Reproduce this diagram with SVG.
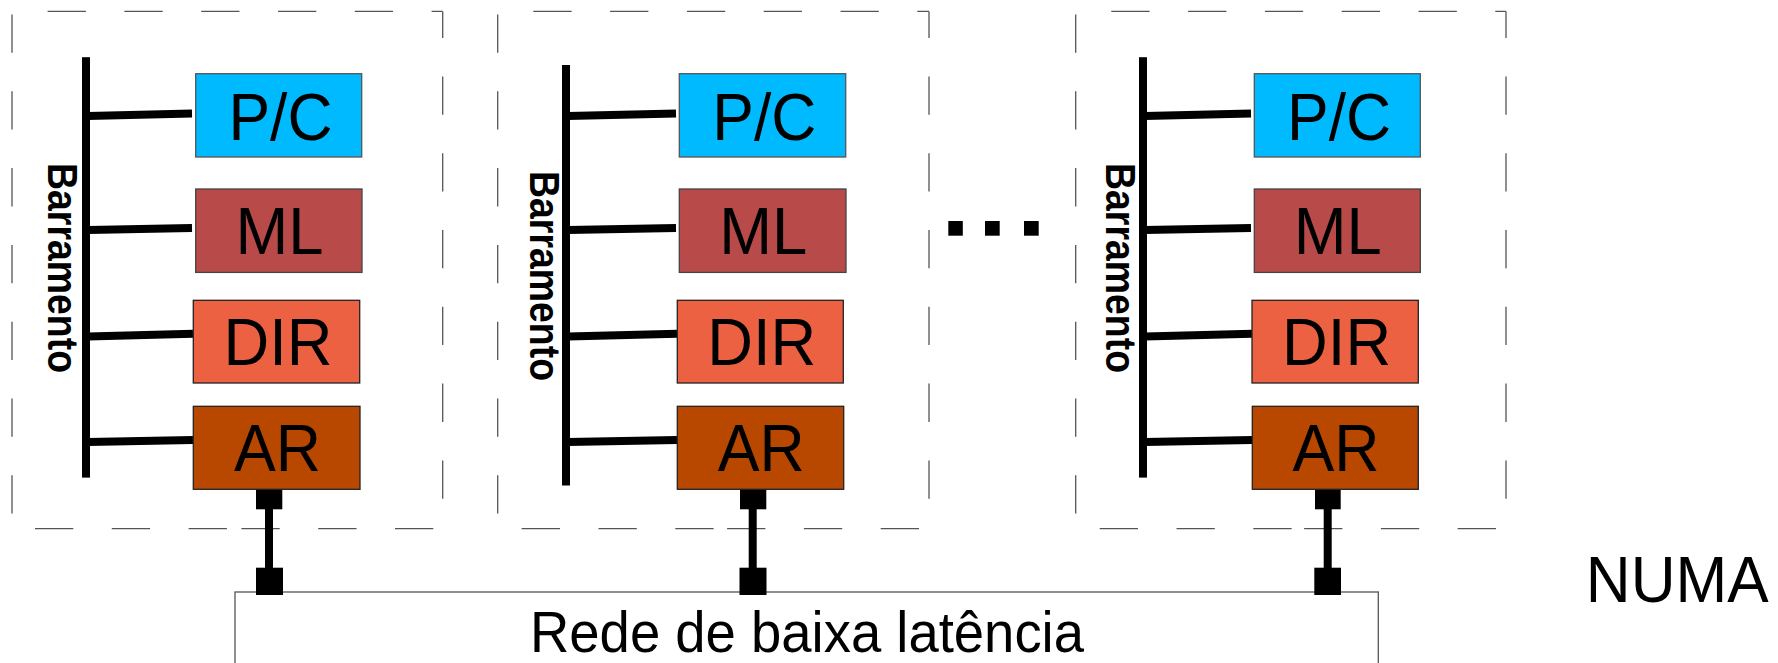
<svg xmlns="http://www.w3.org/2000/svg" width="1778" height="663" viewBox="0 0 1778 663">
<style>
.bg{fill:#ffffff}
.dash{fill:none;stroke:#555555;stroke-width:1.3;stroke-dasharray:38.3 38.5}
.bus{fill:#000000}
.conn{stroke:#000000;stroke-width:8;fill:none}
.pc{fill:#00BAFF;stroke:#555555;stroke-width:1.3}
.ml{fill:#B84A4A;stroke:#444444;stroke-width:1.3}
.dir{fill:#EB6142;stroke:#222222;stroke-width:1.3}
.ar{fill:#B84700;stroke:#222222;stroke-width:1.3}
.lbl{font-family:"Liberation Sans",Arial,sans-serif;font-size:66px;fill:#000000;text-anchor:middle}
.bar{font-family:"Liberation Sans",Arial,sans-serif;font-size:42px;font-weight:bold;fill:#000000;text-anchor:middle}
.net{fill:#ffffff;stroke:#555555;stroke-width:1.3}
.big{font-family:"Liberation Sans",Arial,sans-serif;font-size:58px;fill:#000000}
.sq{fill:#000000}
</style>
<rect class="bg" x="0" y="0" width="1778" height="663"/>

<g id="panel1">
  <path class="dash" d="M12,11.4 H442.7" stroke-dashoffset="41.2"/>
  <path class="dash" d="M442.7,11.4 V528.6" stroke-dashoffset="11.8"/>
  <path class="dash" d="M442.7,528.6 H240" stroke-dashoffset="-9.4"/>
  <path class="dash" d="M12,528.6 H232" stroke-dashoffset="-23"/>
  <path class="dash" d="M12,11.4 V528.6" stroke-dashoffset="-3.1"/>
</g>
<g id="panel2">
  <path class="dash" d="M497.7,11.4 H929" stroke-dashoffset="41.2"/>
  <path class="dash" d="M929,11.4 V528.6" stroke-dashoffset="11.8"/>
  <path class="dash" d="M929,528.6 H726" stroke-dashoffset="-10"/>
  <path class="dash" d="M497.7,528.6 H718" stroke-dashoffset="-24"/>
  <path class="dash" d="M497.7,11.4 V528.6" stroke-dashoffset="-3.1"/>
</g>
<g id="panel3">
  <path class="dash" d="M1075.7,11.4 H1506" stroke-dashoffset="41.2"/>
  <path class="dash" d="M1506,11.4 V528.6" stroke-dashoffset="11.8"/>
  <path class="dash" d="M1506,528.6 H1303" stroke-dashoffset="-10"/>
  <path class="dash" d="M1075.7,528.6 H1296" stroke-dashoffset="-24"/>
  <path class="dash" d="M1075.7,11.4 V528.6" stroke-dashoffset="-3.1"/>
</g>

<g id="network">
  <rect class="net" x="235" y="592" width="1143.3" height="90"/>
  <text class="big" x="807" y="652" text-anchor="middle" textLength="554" lengthAdjust="spacingAndGlyphs">Rede de baixa latência</text>
</g>

<g id="bus1">
  <rect class="bus" x="82" y="57.2" width="8" height="420.4"/>
  <text class="bar" transform="translate(48,268) rotate(90)" textLength="210" lengthAdjust="spacingAndGlyphs">Barramento</text>
</g>
<g id="bus2">
  <rect class="bus" x="562" y="65" width="8" height="420.5"/>
  <text class="bar" transform="translate(530,276) rotate(90)" textLength="210" lengthAdjust="spacingAndGlyphs">Barramento</text>
</g>
<g id="bus3">
  <rect class="bus" x="1139" y="57.2" width="8" height="420.4"/>
  <text class="bar" transform="translate(1106,268) rotate(90)" textLength="210" lengthAdjust="spacingAndGlyphs">Barramento</text>
</g>

<g id="connectors">
  <path class="conn" d="M88,116 L192,113.6 M88,230 L192,228 M88,336.4 L193,333.7 M88,442 L193,440"/>
  <path class="conn" d="M568,116 L676,113.6 M568,230 L676,228 M568,336.4 L677,333.7 M568,442 L677,440"/>
  <path class="conn" d="M1145,116 L1251,113.6 M1145,230 L1251,228 M1145,336.4 L1252,333.7 M1145,442 L1252,440"/>
  <path class="conn" d="M269,505 V570 M752.7,505 V570 M1327.7,505 V570"/>
  <rect class="sq" x="256" y="489.3" width="26.3" height="20"/>
  <rect class="sq" x="256" y="567.7" width="27" height="27.3"/>
  <rect class="sq" x="740" y="489.3" width="26.3" height="20"/>
  <rect class="sq" x="739.5" y="567.7" width="27" height="27.3"/>
  <rect class="sq" x="1315" y="489.3" width="25.7" height="20"/>
  <rect class="sq" x="1314.3" y="567.7" width="26.7" height="27.3"/>
</g>

<g id="pc1"><rect class="pc" x="195.7" y="73.7" width="166" height="83.3"/><text class="lbl" x="280.5" y="139.5" textLength="104" lengthAdjust="spacingAndGlyphs">P/C</text></g>
<g id="ml1"><rect class="ml" x="195.7" y="189" width="166.3" height="83.4"/><text class="lbl" x="279.5" y="254.3" textLength="88" lengthAdjust="spacingAndGlyphs">ML</text></g>
<g id="dir1"><rect class="dir" x="193.3" y="300.3" width="166.4" height="82.7"/><text class="lbl" x="278" y="365.2" textLength="109" lengthAdjust="spacingAndGlyphs">DIR</text></g>
<g id="ar1"><rect class="ar" x="193.3" y="406.3" width="166.7" height="83"/><text class="lbl" x="277.5" y="471" textLength="87" lengthAdjust="spacingAndGlyphs">AR</text></g>

<g id="pc2"><rect class="pc" x="679.3" y="73.7" width="166.4" height="83.3"/><text class="lbl" x="764.3" y="139.5" textLength="104" lengthAdjust="spacingAndGlyphs">P/C</text></g>
<g id="ml2"><rect class="ml" x="679.3" y="189" width="166.7" height="83.4"/><text class="lbl" x="763.2" y="254.3" textLength="88" lengthAdjust="spacingAndGlyphs">ML</text></g>
<g id="dir2"><rect class="dir" x="677.3" y="300.3" width="166" height="82.7"/><text class="lbl" x="761.8" y="365.2" textLength="109" lengthAdjust="spacingAndGlyphs">DIR</text></g>
<g id="ar2"><rect class="ar" x="677.3" y="406.3" width="166.4" height="83"/><text class="lbl" x="761.3" y="471" textLength="87" lengthAdjust="spacingAndGlyphs">AR</text></g>

<g id="pc3"><rect class="pc" x="1254.3" y="73.7" width="166" height="83.3"/><text class="lbl" x="1339.1" y="139.5" textLength="104" lengthAdjust="spacingAndGlyphs">P/C</text></g>
<g id="ml3"><rect class="ml" x="1254.3" y="189" width="166" height="83.4"/><text class="lbl" x="1337.8" y="254.3" textLength="88" lengthAdjust="spacingAndGlyphs">ML</text></g>
<g id="dir3"><rect class="dir" x="1252" y="300.3" width="166.3" height="82.7"/><text class="lbl" x="1336.6" y="365.2" textLength="109" lengthAdjust="spacingAndGlyphs">DIR</text></g>
<g id="ar3"><rect class="ar" x="1252.3" y="406.3" width="166" height="83"/><text class="lbl" x="1336.1" y="471" textLength="87" lengthAdjust="spacingAndGlyphs">AR</text></g>

<g id="ellipsis">
  <rect class="sq" x="948.3" y="221" width="14.5" height="14.7"/>
  <rect class="sq" x="985" y="221" width="14.7" height="14.7"/>
  <rect class="sq" x="1024" y="221" width="14.7" height="14.7"/>
</g>

<g id="numa">
  <text class="big" x="1585.8" y="602" textLength="183" lengthAdjust="spacingAndGlyphs" style="font-size:64px">NUMA</text>
</g>
</svg>
